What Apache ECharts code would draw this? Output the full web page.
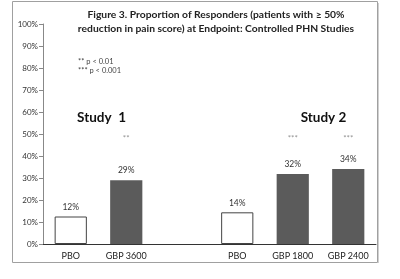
<!DOCTYPE html>
<html><head><meta charset="utf-8">
<script src="https://cdn.jsdelivr.net/npm/echarts@6/dist/echarts.min.js"></script>
<style>html,body{margin:0;padding:0;background:#fff}#c{width:400px;height:279px}</style>
</head><body><div id="c"></div>
<script>
const categories = ['PBO', 'GBP 3600', '', 'PBO', 'GBP 1800', 'GBP 2400'];
const values = [12.5, 29, null, 14.4, 31.8, 34.1];
const valueLabels = ['12%', '29%', '', '14%', '32%', '34%'];
const stars = ['', '**', '', '', '***', '***'];
const isPlacebo = [true, false, false, true, false, false];
const titleLines = ['Figure 3. Proportion of Responders (patients with \u2265 50%', 'reduction in pain score) at Endpoint: Controlled PHN Studies'];
const footnotes = ['** p < 0.01', '*** p < 0.001'];
const studies = [{name: 'Study  1', cats: [0, 1]}, {name: 'Study 2', cats: [4, 5]}];

const chart = echarts.init(document.getElementById('c'));
const font = 'Lato, "DejaVu Sans", sans-serif';
const option = {
  animation: false,
  grid: {left: 43, right: 24, top: 24, bottom: 35},
  xAxis: {
    type: 'category', data: categories,
    axisLine: {lineStyle: {color: '#333', width: 1}},
    axisTick: {show: false},
    axisLabel: {color: '#222', fontSize: 9, fontFamily: font, margin: 8, interval: 0}
  },
  yAxis: {
    type: 'value', min: 0, max: 100, interval: 10,
    splitLine: {show: false},
    axisLine: {show: true, lineStyle: {color: '#888'}},
    axisTick: {show: true, length: 4, lineStyle: {color: '#888'}},
    axisLabel: {color: '#333', fontSize: 8, fontFamily: font, margin: 5, formatter: v => v + '%'}
  },
  series: [{
    type: 'bar', barWidth: '58%',
    data: values.map((v, i) => ({
      value: v,
      itemStyle: isPlacebo[i] ? {color: '#fff', borderColor: '#444', borderWidth: 1} : {color: '#5b5b5b'},
      label: {show: v != null, position: 'top', distance: 5, formatter: valueLabels[i], color: '#333', fontSize: 8.5, fontFamily: font}
    }))
  }, {
    type: 'scatter', symbol: 'circle', symbolSize: 2, silent: true,
    itemStyle: {color: 'rgba(0,0,0,0)'},
    data: stars.map((s, i) => s ? [i, 48] : [i, '-']),
    label: {show: true, position: 'inside', formatter: p => stars[p.dataIndex], color: '#777', fontSize: 8, fontFamily: font}
  }]
};
chart.setOption(option);

const g = [
  {type: 'rect', shape: {x: 12.5, y: 1.5, width: 365, height: 261}, style: {fill: 'none', stroke: '#a0a0a0', lineWidth: 1}, z: 0},
  {type: 'line', shape: {x1: 378.5, y1: 3, x2: 378.5, y2: 263}, style: {stroke: '#d0d0d0', lineWidth: 1}}
];
titleLines.forEach((t, i) => g.push({type: 'text', x: 216, y: 15 + i * 14, style: {text: t, fill: '#222', font: 'bold 10.3px ' + font, textAlign: 'center', textVerticalAlign: 'middle'}}));
footnotes.forEach((t, i) => g.push({type: 'text', x: 78, y: 62 + i * 9, style: {text: t, fill: '#444', font: '7.5px ' + font, textAlign: 'left', textVerticalAlign: 'middle'}}));
studies.forEach(s => {
  const a = chart.convertToPixel({xAxisIndex: 0}, s.cats[0]);
  const b = chart.convertToPixel({xAxisIndex: 0}, s.cats[1]);
  const y = chart.convertToPixel({yAxisIndex: 0}, 57.5);
  g.push({type: 'text', x: (a + b) / 2 + 3, y: y, style: {text: s.name, fill: '#111', font: 'bold 13.5px ' + font, textAlign: 'center', textVerticalAlign: 'middle'}});
});
chart.setOption({graphic: g});
</script></body></html>
